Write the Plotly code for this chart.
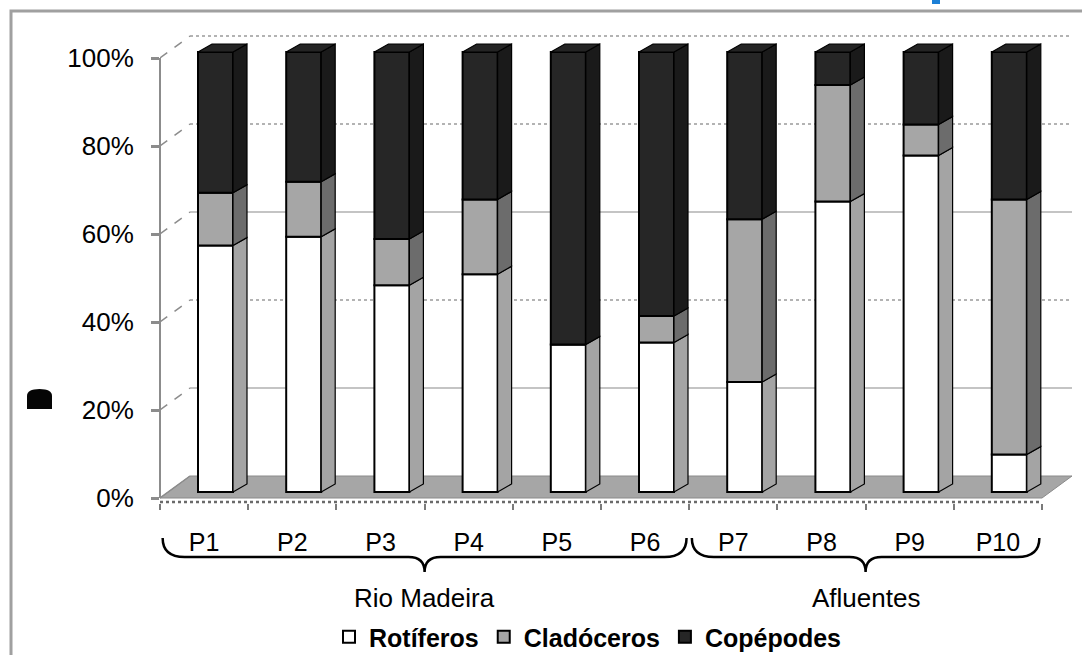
import plotly.graph_objects as go

# ---- data (percent of total zooplankton per sampling point) ----
categories = ["P1", "P2", "P3", "P4", "P5", "P6", "P7", "P8", "P9", "P10"]
rotiferos = [56, 58, 47, 49.5, 33.5, 34, 25, 66, 76.5, 8.5]
cladoceros = [12, 12.5, 10.5, 17, 0, 6, 37, 26.5, 7, 58]
copepodes = [32, 29.5, 42.5, 33.5, 66.5, 60, 38, 7.5, 16.5, 33.5]
group_names = ["Rio Madeira", "Afluentes"]
group_sizes = [6, 4]
y_ticks = [0, 20, 40, 60, 80, 100]

series = [
    ("Rotíferos", rotiferos, "#ffffff", "#a4a4a4"),
    ("Cladóceros", cladoceros, "#a6a6a6", "#6c6c6c"),
    ("Copépodes", copepodes, "#262626", "#1a1a1a"),
]

# ---- page / plot geometry ----
W, H = 1082, 655
ML, MT = 160, 30
PW, PH = 918, 473
MR, MB = W - ML - PW, H - MT - PH
CAT_PX = 88.2          # pixels per category
PCT_PX = 4.4           # pixels per percent
XMIN = -0.5
XMAX = XMIN + PW / CAT_PX
YMIN = -5 / PCT_PX
YMAX = YMIN + PH / PCT_PX

def kx(px):  # pixel length -> x data units
    return px / CAT_PX

def ky(px):  # pixel length -> y data units
    return px / PCT_PX

def xp(x):   # x data -> paper
    return (x - XMIN) / (XMAX - XMIN)

def yp(y):   # y data -> paper
    return (y - YMIN) / (YMAX - YMIN)

def px2paper_x(px):
    return (px - ML) / PW

def px2paper_y(py):
    return (MT + PH - py) / PH

# 3-D look: bar offsets and depth, back-wall depth
BAR_DX, BAR_DY = kx(11.4), ky(6)
BAR_W = kx(35)
SIDE_DX, SIDE_DY = kx(14), ky(8)
WALL_DX, WALL_DY = kx(30), ky(22)

n = len(categories)
xs = [i + BAR_DX for i in range(n)]

fig = go.Figure()

# front faces
bases = [0.0] * n
seg_bounds = []
for name, vals, face, side in series:
    fig.add_trace(go.Bar(
        x=xs, y=list(vals), base=[b + BAR_DY for b in bases], width=BAR_W,
        name=name, marker=dict(color=face, line=dict(color="#000000", width=2)),
        hoverinfo="skip",
    ))
    seg_bounds.append([(bases[i], bases[i] + vals[i]) for i in range(n)])
    bases = [bases[i] + vals[i] for i in range(n)]

# side faces of every segment
for (name, vals, face, side), bounds in zip(series, seg_bounds):
    px_, py_ = [], []
    for i, (b, t) in enumerate(bounds):
        if t - b <= 0:
            continue
        xr = xs[i] + BAR_W / 2
        px_ += [xr, xr + SIDE_DX, xr + SIDE_DX, xr, xr, None]
        py_ += [b + BAR_DY, b + BAR_DY + SIDE_DY, t + BAR_DY + SIDE_DY, t + BAR_DY, b + BAR_DY, None]
    fig.add_trace(go.Scatter(
        x=px_, y=py_, mode="lines", fill="toself", fillcolor=side,
        line=dict(color="#000000", width=1.2), showlegend=False, hoverinfo="skip",
    ))

# top faces
tx, ty = [], []
for i in range(n):
    top = bases[i] + BAR_DY
    xl, xr = xs[i] - BAR_W / 2, xs[i] + BAR_W / 2
    tx += [xl, xr, xr + SIDE_DX, xl + SIDE_DX, xl, None]
    ty += [top, top, top + SIDE_DY, top + SIDE_DY, top, None]
fig.add_trace(go.Scatter(
    x=tx, y=ty, mode="lines", fill="toself", fillcolor="#242424",
    line=dict(color="#000000", width=1.2), showlegend=False, hoverinfo="skip",
))

shapes = []
x_end = XMIN + n
# floor
shapes.append(dict(
    type="path", xref="x", yref="y", layer="below",
    path=f"M {XMIN},0 L {x_end},0 L {x_end + WALL_DX},{WALL_DY} L {XMIN + WALL_DX},{WALL_DY} Z",
    fillcolor="#a6a6a6", line=dict(color="#8a8a8a", width=1),
))
# back-wall gridlines and their links to the axis ticks
for v in y_ticks:
    if v == 0:
        continue
    solid = v in (20, 60)
    shapes.append(dict(
        type="line", xref="x", yref="y", layer="below",
        x0=XMIN + WALL_DX, x1=x_end + WALL_DX, y0=v + WALL_DY, y1=v + WALL_DY,
        line=dict(color="#b0b0b0" if solid else "#9a9a9a", width=1.5,
                  dash="solid" if solid else "dot"),
    ))
    shapes.append(dict(
        type="line", xref="x", yref="y", layer="below",
        x0=XMIN, x1=XMIN + WALL_DX, y0=v, y1=v + WALL_DY,
        line=dict(color="#8c8c8c", width=1.5, dash="dash"),
    ))
shapes.append(dict(
    type="line", xref="x", yref="y", layer="below",
    x0=XMIN, x1=XMIN + WALL_DX, y0=0, y1=WALL_DY,
    line=dict(color="#8c8c8c", width=1.5),
))
# vertical axis line
shapes.append(dict(
    type="line", xref="paper", yref="paper", layer="above",
    x0=0, x1=0, y0=yp(0), y1=yp(100),
    line=dict(color="#8c8c8c", width=2),
))
# horizontal axis line (dotted)
shapes.append(dict(
    type="line", xref="paper", yref="paper", layer="above",
    x0=xp(XMIN), x1=xp(x_end), y0=0.002, y1=0.002,
    line=dict(color="#6a6a6a", width=2.5, dash="dot"),
))

# group braces
y_top, y_line, y_tip = px2paper_y(538), px2paper_y(557), px2paper_y(572)
start = 0
annotations = []
for gname, gsize in zip(group_names, group_sizes):
    g0, g1 = start, start + gsize - 1
    x0, x1 = xp(g0 - 0.47), xp(g1 + 0.47)
    xm = xp((g0 + g1) / 2)
    r = 22 / PW
    rt = 16 / PW
    shapes.append(dict(
        type="path", xref="paper", yref="paper",
        path=(f"M {x0},{y_top} Q {x0},{y_line} {x0 + r},{y_line} "
              f"L {xm - rt},{y_line} Q {xm},{y_line} {xm},{y_tip} "
              f"Q {xm},{y_line} {xm + rt},{y_line} "
              f"L {x1 - r},{y_line} Q {x1},{y_line} {x1},{y_top}"),
        line=dict(color="#000000", width=2.5),
    ))
    annotations.append(dict(
        text=gname, xref="paper", yref="paper", x=xm, y=px2paper_y(598),
        xanchor="center", yanchor="middle", showarrow=False,
        font=dict(family="Liberation Sans, Arial, sans-serif", size=26, color="#000000"),
    ))
    start += gsize

# outer chart frame
shapes.append(dict(
    type="rect", xref="paper", yref="paper",
    x0=px2paper_x(11), x1=px2paper_x(W + 20), y0=px2paper_y(H + 20), y1=px2paper_y(11),
    line=dict(color="#a0a0a0", width=3), fillcolor="rgba(0,0,0,0)",
))
# clipped title fragment at the top edge
shapes.append(dict(
    type="rect", xref="paper", yref="paper",
    x0=px2paper_x(932), x1=px2paper_x(940), y0=px2paper_y(4), y1=px2paper_y(-2),
    line=dict(width=0), fillcolor="#1b7fd6",
))
# clipped axis-title fragment on the left
bx0, bx1 = px2paper_x(27), px2paper_x(52)
by0, byt, by1 = px2paper_y(409), px2paper_y(396), px2paper_y(389)
shapes.append(dict(
    type="path", xref="paper", yref="paper",
    path=(f"M {bx0},{by0} L {bx0},{byt} Q {bx0},{by1} {(bx0 + bx1) / 2},{by1} "
          f"Q {bx1},{by1} {bx1},{byt} L {bx1},{by0} Z"),
    line=dict(width=0), fillcolor="#050505",
))

fig.update_layout(
    width=W, height=H,
    margin=dict(l=ML, r=MR, t=MT, b=MB, autoexpand=False),
    paper_bgcolor="#ffffff", plot_bgcolor="rgba(0,0,0,0)",
    barmode="overlay",
    showlegend=True,
    legend=dict(
        orientation="h", x=px2paper_x(329), y=px2paper_y(637),
        xanchor="left", yanchor="middle",
        font=dict(family="Liberation Sans, Arial, sans-serif", size=25, color="#000000", weight="bold"),
        itemclick=False, itemdoubleclick=False,
    ),
    xaxis=dict(
        range=[XMIN, XMAX], showgrid=False, zeroline=False, showline=False,
        tickmode="array", tickvals=list(range(n)), ticktext=categories,
        ticks="", ticklabelstandoff=22,
        tickfont=dict(family="Liberation Sans, Arial, sans-serif", size=25, color="#000000"),
        minor=dict(tickmode="array", tickvals=[XMIN + k for k in range(n + 1)],
                   ticks="outside", ticklen=6, tickwidth=2, tickcolor="#7a7a7a", showgrid=False),
    ),
    yaxis=dict(
        range=[YMIN, YMAX], showgrid=False, zeroline=False, showline=False,
        tickmode="array", tickvals=y_ticks, ticktext=[f"{v}%" for v in y_ticks],
        ticks="outside", ticklen=8, tickwidth=3, tickcolor="#8c8c8c",
        ticklabelstandoff=12,
        tickfont=dict(family="Liberation Sans, Arial, sans-serif", size=26, color="#000000"),
    ),
    shapes=shapes,
    annotations=annotations,
)

fig.write_html("out.html")
